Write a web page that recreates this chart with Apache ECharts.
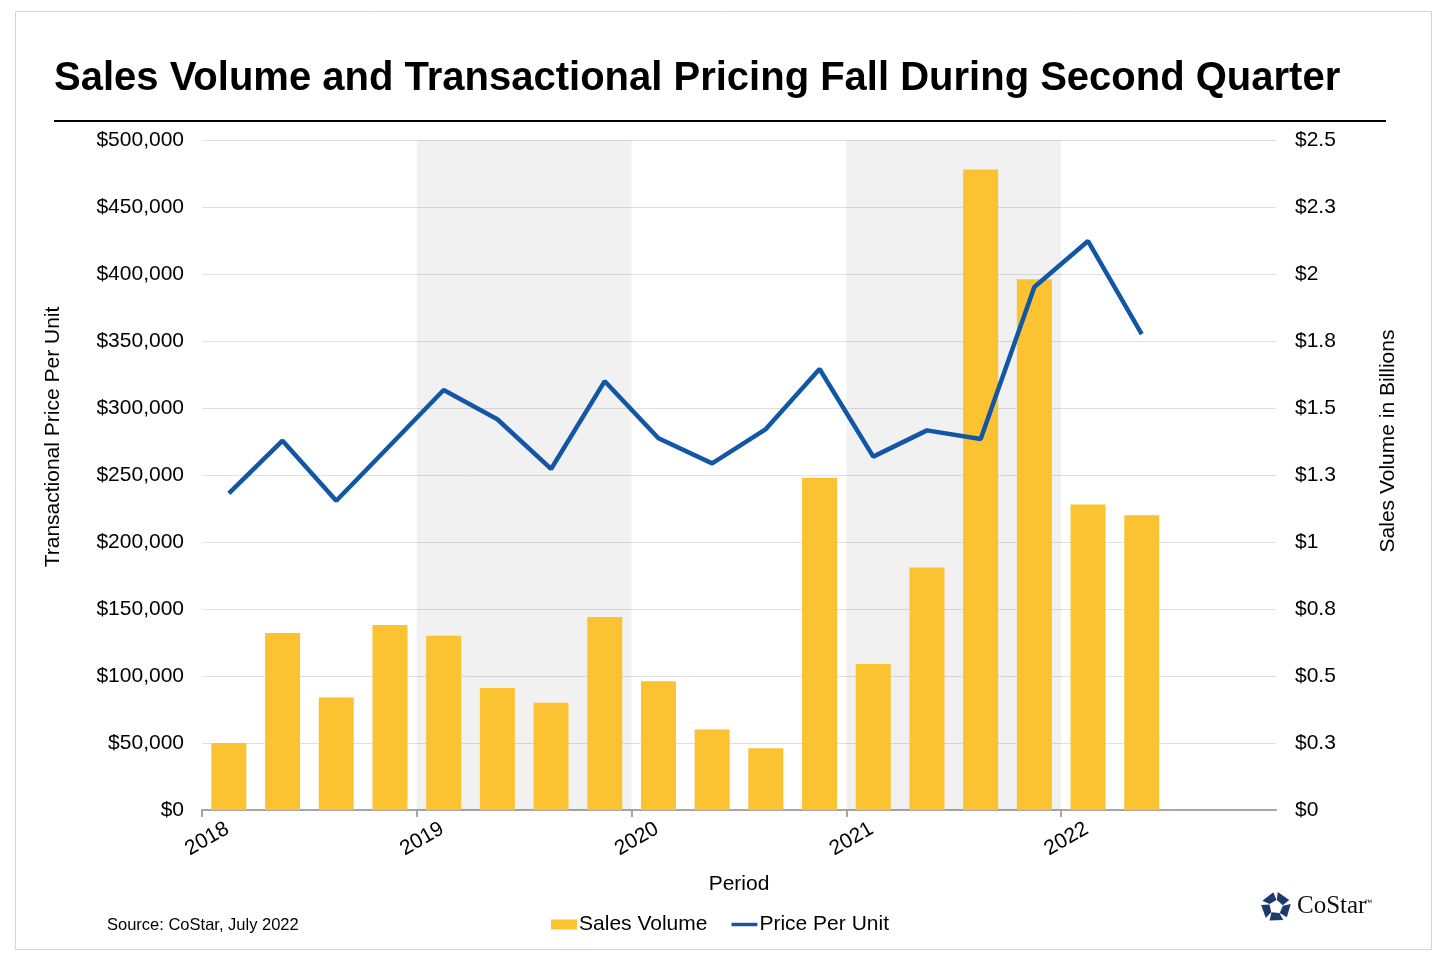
<!DOCTYPE html>
<html>
<head>
<meta charset="utf-8">
<script src="https://cdn.jsdelivr.net/npm/echarts@6/dist/echarts.min.js"></script>
<style>
html,body{margin:0;padding:0;background:#fff;}
#chart{width:1440px;height:960px;}
</style>
</head>
<body>
<div id="chart"></div>
<script>
const periods = ['2018 Q1','2018 Q2','2018 Q3','2018 Q4','2019 Q1','2019 Q2','2019 Q3','2019 Q4','2020 Q1','2020 Q2','2020 Q3','2020 Q4','2021 Q1','2021 Q2','2021 Q3','2021 Q4','2022 Q1','2022 Q2'];
const salesVolume = [0.25, 0.66, 0.42, 0.69, 0.65, 0.455, 0.40, 0.72, 0.48, 0.30, 0.23, 1.24, 0.545, 0.905, 2.39, 1.98, 1.14, 1.10];
const pricePerUnit = [236300, 275600, 230800, 272000, 313400, 291600, 254500, 320000, 277400, 258700, 284300, 329100, 263700, 283300, 276900, 390300, 424600, 355200];
const shadedYears = [[2019, 2020], [2021, 2022]];
const leftTicks = {min: 0, max: 500000, interval: 50000};
const rightTicks = {min: 0, max: 2.5, interval: 0.25};
const xRange = {min: 2018, max: 2023, interval: 1};

function periodToX(p) {
  const [y, q] = p.split(' ');
  return Number(y) + (Number(q.slice(1)) - 0.5) / 4;
}
const barData = periods.map((p, i) => [periodToX(p), salesVolume[i]]);
const lineData = periods.map((p, i) => [periodToX(p), pricePerUnit[i]]);

const chart = echarts.init(document.getElementById('chart'));
const FONT = 'Liberation Sans, Arial, sans-serif';

// logo pieces (decoration)
const logoPieces = [];
const cx = 1276, cy = 907, rO = 15, rI = 7;
for (let k = 0; k < 5; k++) {
  const a0 = -Math.PI / 2 + k * 2 * Math.PI / 5 + 0.12;
  const a1 = a0 + 2 * Math.PI / 5 - 0.3;
  const pts = [
    [cx + rI * Math.cos(a0), cy + rI * Math.sin(a0)],
    [cx + rO * Math.cos(a0), cy + rO * Math.sin(a0)],
    [cx + rO * Math.cos(a1), cy + rO * Math.sin(a1)],
    [cx + rI * Math.cos(a1 + 0.25), cy + rI * Math.sin(a1 + 0.25)]
  ];
  logoPieces.push({type: 'polygon', shape: {points: pts}, style: {fill: '#1c3a6e'}});
}

chart.setOption({
  animation: false,
  backgroundColor: '#fff',
  textStyle: {fontFamily: FONT},
  title: {
    text: 'Sales Volume and Transactional Pricing Fall During Second Quarter',
    left: 49, top: 54,
    textStyle: {fontSize: 40, fontWeight: 'bold', color: '#000', fontFamily: FONT}
  },
  graphic: [
    {type: 'rect', shape: {x: 15.5, y: 11.5, width: 1416, height: 938}, style: {fill: 'none', stroke: '#d4d4d4', lineWidth: 1}, z: -10},
    {type: 'line', shape: {x1: 54, y1: 121, x2: 1386, y2: 121}, style: {stroke: '#000', lineWidth: 2}},
    {type: 'text', left: 107, top: 917, style: {text: 'Source: CoStar, July 2022', fontSize: 16.5, fill: '#000', fontFamily: FONT}},
    {type: 'group', children: logoPieces},
    {type: 'text', left: 1297, top: 894, style: {text: 'CoStar', fontSize: 25, fill: '#111', fontFamily: 'Liberation Serif, serif'}},
    {type: 'text', left: 1364, top: 899, style: {text: '™', fontSize: 8, fill: '#111', fontFamily: FONT}},
    {type: 'text', x: 53, y: 437, rotation: Math.PI / 2,
      style: {text: 'Transactional Price Per Unit', fontSize: 21, fill: '#000', fontFamily: FONT, align: 'center', verticalAlign: 'middle'}},
    {type: 'text', x: 1388, y: 441, rotation: Math.PI / 2,
      style: {text: 'Sales Volume in Billions', fontSize: 21, fill: '#000', fontFamily: FONT, align: 'center', verticalAlign: 'middle'}}
  ],
  legend: {
    bottom: 20, left: 'center',
    itemWidth: 26, itemHeight: 10, itemGap: 24,
    textStyle: {fontSize: 21, color: '#000', fontFamily: FONT, padding: [0, 0, 0, -3]},
    data: [
      {name: 'Sales Volume', icon: 'rect'},
      {name: 'Price Per Unit', icon: 'path://M0,0H30V4H0Z'}
    ]
  },
  grid: {left: 202, right: 164, top: 140, bottom: 150},
  xAxis: {
    type: 'value', min: xRange.min, max: xRange.max, interval: xRange.interval,
    name: 'Period', nameLocation: 'middle', nameGap: 64,
    nameTextStyle: {fontSize: 21, color: '#000', fontFamily: FONT},
    axisLine: {show: true, lineStyle: {color: '#a6a6a6', width: 2}},
    axisTick: {show: true, length: 7, lineStyle: {color: '#a6a6a6', width: 2}},
    splitLine: {show: false},
    axisLabel: {
      rotate: 30, align: 'center', verticalAlign: 'middle', margin: 32,
      padding: [0, 0, 0, 12],
      fontSize: 21, color: '#000', fontFamily: FONT,
      formatter: v => String(v),
      showMaxLabel: false
    }
  },
  yAxis: [
    {
      type: 'value', position: 'left', min: leftTicks.min, max: leftTicks.max, interval: leftTicks.interval,
      axisLine: {show: false}, axisTick: {show: false},
      splitLine: {lineStyle: {color: '#e0e0e0', width: 1}},
      axisLabel: {fontSize: 21, color: '#000', margin: 18, fontFamily: FONT,
        formatter: v => '$' + v.toLocaleString('en-US')}
    },
    {
      type: 'value', position: 'right', min: rightTicks.min, max: rightTicks.max, interval: rightTicks.interval,
      axisLine: {show: false}, axisTick: {show: false},
      splitLine: {show: false},
      axisLabel: {fontSize: 21, color: '#000', margin: 19, fontFamily: FONT,
        formatter: v => '$' + parseFloat((Math.round(v * 10) / 10).toFixed(1)).toString()}
    }
  ],
  series: [
    {
      name: 'Sales Volume', type: 'bar', yAxisIndex: 1, data: barData,
      barWidth: 35, z: 3,
      itemStyle: {color: '#FBC232'},
      markArea: {
        silent: true,
        itemStyle: {color: 'rgba(0,0,0,0.055)'},
        data: shadedYears.map(r => [{xAxis: r[0]}, {xAxis: r[1]}])
      }
    },
    {
      name: 'Price Per Unit', type: 'line', yAxisIndex: 0, data: lineData,
      symbol: 'none', z: 5,
      lineStyle: {color: '#1257A5', width: 4.5},
      itemStyle: {color: '#1257A5'}
    }
  ]
});
</script>
</body>
</html>
